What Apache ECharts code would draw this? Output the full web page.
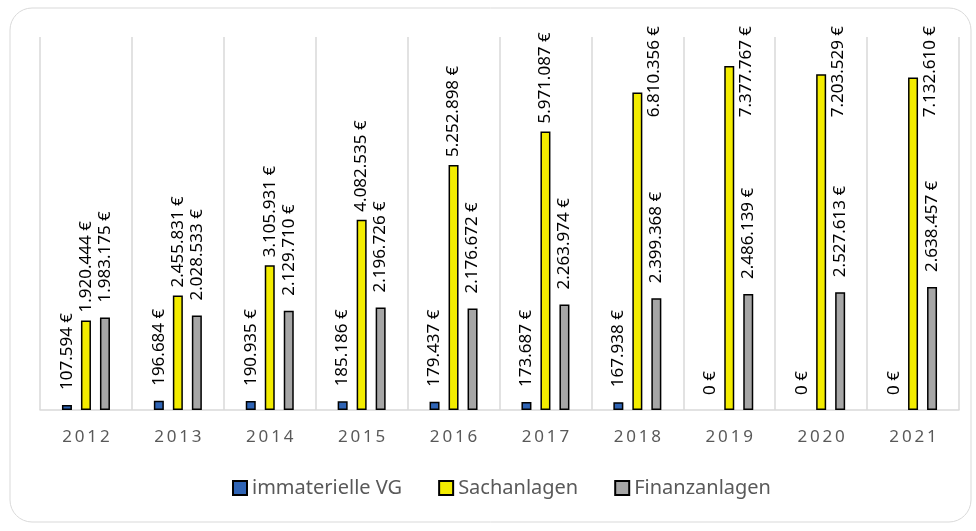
<!DOCTYPE html>
<html>
<head>
<meta charset="utf-8">
<script src="https://cdn.jsdelivr.net/npm/echarts@6/dist/echarts.min.js"></script>
<style>
  html, body { margin: 0; padding: 0; background: #fff; }
  #chart { width: 976px; height: 531px; }
</style>
</head>
<body>
<div id="chart"></div>
<script>
// Jahre
var years = ['2012', '2013', '2014', '2015', '2016', '2017', '2018', '2019', '2020', '2021'];
// immaterielle Vermögensgegenstände
var immaterielleVG = [107594, 196684, 190935, 185186, 179437, 173687, 167938, 0, 0, 0];
// Sachanlagen
var sachanlagen = [1920444, 2455831, 3105931, 4082535, 5252898, 5971087, 6810356, 7377767, 7203529, 7132610];
// Finanzanlagen
var finanzanlagen = [1983175, 2028533, 2129710, 2196726, 2176672, 2263974, 2399368, 2486139, 2527613, 2638457];

var chart = echarts.init(document.getElementById('chart'));

// 1234567 -> "1.234.567 €"
function euro(v) {
  return String(v).replace(/\B(?=(\d{3})+(?!\d))/g, '.') + ' €';
}

// Nullwerte ohne Rahmen, sonst sieht man einen Strich an der Achse
function items(arr) {
  return arr.map(function (v) {
    return v === 0 ? { value: v, itemStyle: { borderWidth: 0 } } : v;
  });
}

function labelOption(dist) {
  return {
    show: true,
    position: 'top',
    rotate: 90,
    align: 'left',
    verticalAlign: 'middle',
    distance: dist,
    fontFamily: 'Noto Sans',
    fontSize: 17,
    color: '#000',
    formatter: function (p) { return euro(p.value); }
  };
}

// wie in Excel: wenn das Label oben nicht mehr passt, neben den Balken schieben
// (dx/dy wirken im gedrehten Textsystem, daher vertauscht)
var minTop = 26;
function fitLabel(p) {
  if (p.labelRect.y >= minTop) return {};
  var cx = p.rect.x + p.rect.width / 2 + 17;
  var sx = cx - (p.labelRect.x + p.labelRect.width / 2);
  var sy = minTop - p.labelRect.y;
  return { dx: -sy, dy: sx };
}

chart.setOption({
  animation: false,
  graphic: [{
    type: 'rect',
    shape: { x: 10, y: 8, width: 961, height: 514, r: 22 },
    style: { fill: 'none', stroke: '#d9d9d9', lineWidth: 1 },
    silent: true,
    z: -10
  }],
  grid: { left: 40, right: 17, top: 37, bottom: 121 },
  legend: {
    data: ['immaterielle VG', 'Sachanlagen', 'Finanzanlagen'],
    left: 232,
    top: 478,
    padding: 0,
    itemWidth: 14,
    itemHeight: 14,
    itemGap: 36,
    icon: 'rect',
    textStyle: { fontFamily: 'Noto Sans', fontSize: 20, color: '#595959' }
  },
  xAxis: {
    type: 'category',
    data: years,
    axisLine: { show: true, lineStyle: { color: '#d9d9d9', width: 1.5 } },
    axisTick: { show: false },
    splitLine: { show: true, lineStyle: { color: '#d9d9d9', width: 1.5 } },
    axisLabel: {
      margin: 19,
      fontFamily: 'Noto Sans',
      fontSize: 17,
      color: '#595959',
      formatter: function (v) { return v.split('').join('\u2009'); }
    }
  },
  yAxis: {
    type: 'value',
    min: 0,
    max: 8000000,
    show: false,
    splitLine: { show: false }
  },
  series: [
    {
      name: 'immaterielle VG',
      type: 'bar',
      data: items(immaterielleVG),
      barWidth: 10,
      barGap: '90%',
      itemStyle: { color: '#2f64b5', borderColor: '#000', borderWidth: 1.5 },
      label: labelOption(15)
    },
    {
      name: 'Sachanlagen',
      type: 'bar',
      data: items(sachanlagen),
      barWidth: 10,
      barGap: '90%',
      itemStyle: { color: '#f3ec00', borderColor: '#000', borderWidth: 1.5 },
      label: labelOption(8),
      labelLayout: fitLabel
    },
    {
      name: 'Finanzanlagen',
      type: 'bar',
      data: items(finanzanlagen),
      barWidth: 10,
      barGap: '90%',
      itemStyle: { color: '#a6a6a6', borderColor: '#000', borderWidth: 1.5 },
      label: labelOption(15)
    }
  ]
});
</script>
</body>
</html>
